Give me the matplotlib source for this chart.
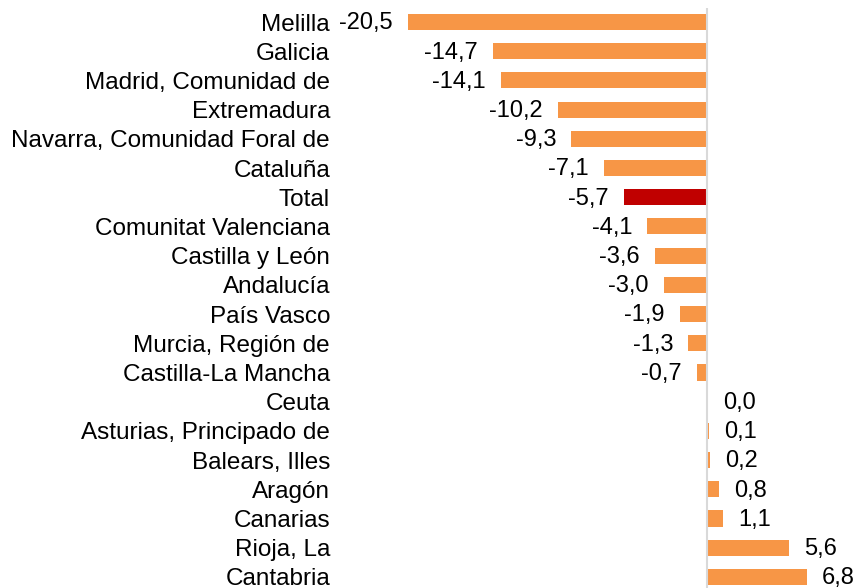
import matplotlib.pyplot as plt

regiones = ["Melilla", "Galicia", "Madrid, Comunidad de", "Extremadura",
            "Navarra, Comunidad Foral de", "Cataluña", "Total",
            "Comunitat Valenciana", "Castilla y León", "Andalucía",
            "País Vasco", "Murcia, Región de", "Castilla-La Mancha", "Ceuta",
            "Asturias, Principado de", "Balears, Illes", "Aragón", "Canarias",
            "Rioja, La", "Cantabria"]
valores = [-20.5, -14.7, -14.1, -10.2, -9.3, -7.1, -5.7, -4.1, -3.6, -3.0,
           -1.9, -1.3, -0.7, 0.0, 0.1, 0.2, 0.8, 1.1, 5.6, 6.8]

plt.rcParams['font.family'] = ['Liberation Sans', 'DejaVu Sans']

fig = plt.figure(figsize=(8.55, 5.88), dpi=100)
ax = fig.add_axes([0.40, 0.0, 0.60, 580 / 588])

colores = ["#C00000" if r == "Total" else "#F79646" for r in regiones]
pos = list(range(len(regiones)))
ax.barh(pos, valores, height=0.55, color=colores)
ax.axvline(0, color="#D9D9D9", linewidth=1.5)

for i, v in enumerate(valores):
    txt = ("%.1f" % v).replace(".", ",")
    if v < 0:
        ax.annotate(txt, (v, i), xytext=(-11, -1), textcoords="offset points",
                    ha="right", va="center", fontsize=17)
    else:
        ax.annotate(txt, (v, i), xytext=(11, -1), textcoords="offset points",
                    ha="left", va="center", fontsize=17)

ax.set_xlim(-25, 10.1)
ax.set_ylim(19.38, -0.48)
ax.set_yticks(pos)
ax.set_yticklabels(regiones, fontsize=17.5)
ax.set_xticks([])
ax.tick_params(axis="y", length=0, pad=8.6)
for s in ax.spines.values():
    s.set_visible(False)

fig.savefig("out.png", dpi=100)
